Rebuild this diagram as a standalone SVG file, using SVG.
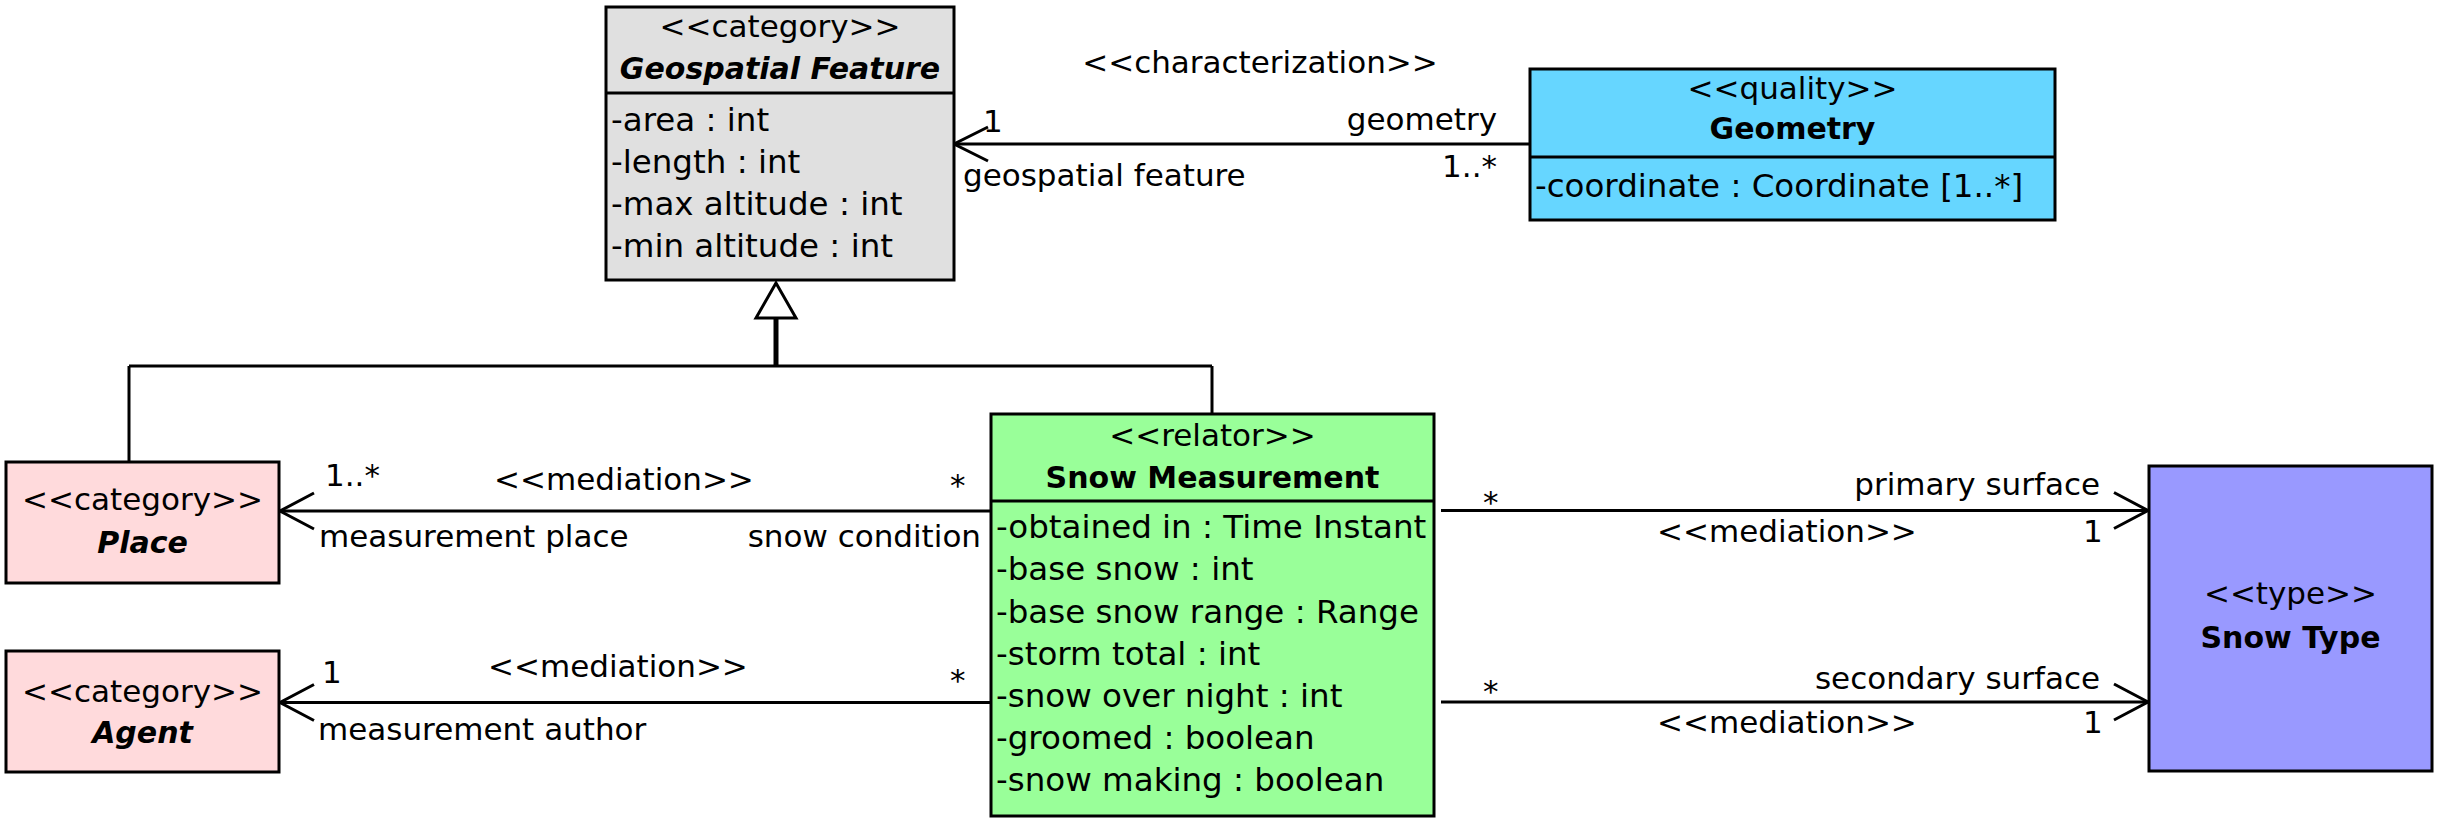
<svg xmlns="http://www.w3.org/2000/svg" width="2445" height="828" viewBox="0 0 2445 828">
<style>
text{font-family:"DejaVu Sans","Liberation Sans",sans-serif;fill:#000}
.st{font-size:31px;text-anchor:middle}
.nm{font-size:30px;font-weight:bold;text-anchor:middle}
.nmi{font-size:30px;font-weight:bold;font-style:italic;text-anchor:middle}
.at{font-size:32.5px}
.lb{font-size:31px}
.end{text-anchor:end}
.mid{text-anchor:middle}
.box{stroke:#000;stroke-width:3}
.sep{stroke:#000;stroke-width:3}
.ln{stroke:#000;stroke-width:3;fill:none}
</style>
<rect width="2445" height="828" fill="#fff"/>
<g id="connectors">
  <!-- characterization -->
  <line class="ln" x1="954" y1="144" x2="1530" y2="144"/>
  <polyline class="ln" points="988,127 954,144 988,161"/>
  <!-- generalization -->
  <line class="ln" x1="129" y1="366" x2="1212" y2="366"/>
  <line class="ln" x1="129" y1="366" x2="129" y2="462"/>
  <line class="ln" x1="1212" y1="366" x2="1212" y2="414"/>
  <line x1="776" y1="318" x2="776" y2="366" stroke="#000" stroke-width="5"/>
  <polygon points="776,283 756,318 796,318" fill="#fff" stroke="#000" stroke-width="3"/>
  <!-- place mediation -->
  <line class="ln" x1="280" y1="511" x2="991" y2="511"/>
  <polyline class="ln" points="314,493 280,511 314,529"/>
  <!-- agent mediation -->
  <line class="ln" x1="280" y1="702.5" x2="991" y2="702.5"/>
  <polyline class="ln" points="314,684.5 280,702.5 314,720.5"/>
  <!-- primary surface -->
  <line class="ln" x1="1441" y1="510.5" x2="2148" y2="510.5"/>
  <polyline class="ln" points="2114,492.5 2148,510.5 2114,528.5"/>
  <!-- secondary surface -->
  <line class="ln" x1="1441" y1="702" x2="2148" y2="702"/>
  <polyline class="ln" points="2114,684 2148,702 2114,720"/>
  <!-- labels -->
  <text class="lb mid" x="1260" y="73">&lt;&lt;characterization&gt;&gt;</text>
  <text class="lb end" x="1497" y="130">geometry</text>
  <text class="lb end" x="1497" y="177">1..*</text>
  <text class="lb" x="983" y="132">1</text>
  <text class="lb" x="963" y="186">geospatial feature</text>

  <text class="lb" x="325" y="486">1..*</text>
  <text class="lb" x="494" y="490">&lt;&lt;mediation&gt;&gt;</text>
  <text class="lb" x="950" y="496">*</text>
  <text class="lb" x="319" y="547">measurement place</text>
  <text class="lb end" x="981" y="547">snow condition</text>

  <text class="lb" x="322" y="683">1</text>
  <text class="lb" x="488" y="677">&lt;&lt;mediation&gt;&gt;</text>
  <text class="lb" x="950" y="691">*</text>
  <text class="lb" x="318" y="740">measurement author</text>

  <text class="lb" x="1483" y="513">*</text>
  <text class="lb end" x="2100" y="495">primary surface</text>
  <text class="lb" x="1657" y="542">&lt;&lt;mediation&gt;&gt;</text>
  <text class="lb" x="2083" y="542">1</text>

  <text class="lb" x="1483" y="702">*</text>
  <text class="lb end" x="2100" y="689">secondary surface</text>
  <text class="lb" x="1657" y="733">&lt;&lt;mediation&gt;&gt;</text>
  <text class="lb" x="2083" y="733">1</text>
</g>
<g id="geospatial-feature">
  <rect class="box" x="606" y="7" width="348" height="273" fill="#e0e0e0"/>
  <line class="sep" x1="606" y1="93" x2="954" y2="93"/>
  <text class="st" x="780" y="37">&lt;&lt;category&gt;&gt;</text>
  <text class="nmi" x="780" y="79">Geospatial Feature</text>
  <text class="at" x="611" y="131">-area : int</text>
  <text class="at" x="611" y="173">-length : int</text>
  <text class="at" x="611" y="215">-max altitude : int</text>
  <text class="at" x="611" y="257">-min altitude : int</text>
</g>
<g id="geometry">
  <rect class="box" x="1530" y="69" width="525" height="151" fill="#66d6ff"/>
  <line class="sep" x1="1530" y1="157" x2="2055" y2="157"/>
  <text class="st" x="1792.5" y="99">&lt;&lt;quality&gt;&gt;</text>
  <text class="nm" x="1792.5" y="139">Geometry</text>
  <text class="at" x="1535" y="197">-coordinate : Coordinate [1..*]</text>
</g>
<g id="place">
  <rect class="box" x="6" y="462" width="273" height="121" fill="#ffdadc"/>
  <text class="st" x="142.5" y="510">&lt;&lt;category&gt;&gt;</text>
  <text class="nmi" x="142.5" y="553">Place</text>
</g>
<g id="agent">
  <rect class="box" x="6" y="651" width="273" height="121" fill="#ffdadc"/>
  <text class="st" x="142.5" y="702">&lt;&lt;category&gt;&gt;</text>
  <text class="nmi" x="142.5" y="743">Agent</text>
</g>
<g id="snow-measurement">
  <rect class="box" x="991" y="414" width="443" height="402" fill="#99ff99"/>
  <line class="sep" x1="991" y1="501" x2="1434" y2="501"/>
  <text class="st" x="1212.5" y="446">&lt;&lt;relator&gt;&gt;</text>
  <text class="nm" x="1212.5" y="488">Snow Measurement</text>
  <text class="at" x="996" y="538">-obtained in : Time Instant</text>
  <text class="at" x="996" y="580">-base snow : int</text>
  <text class="at" x="996" y="623">-base snow range : Range</text>
  <text class="at" x="996" y="665">-storm total : int</text>
  <text class="at" x="996" y="707">-snow over night : int</text>
  <text class="at" x="996" y="749">-groomed : boolean</text>
  <text class="at" x="996" y="791">-snow making : boolean</text>
</g>
<g id="snow-type">
  <rect class="box" x="2149" y="466" width="283" height="305" fill="#9999ff"/>
  <text class="st" x="2290.5" y="604">&lt;&lt;type&gt;&gt;</text>
  <text class="nm" x="2290.5" y="648">Snow Type</text>
</g>
</svg>
